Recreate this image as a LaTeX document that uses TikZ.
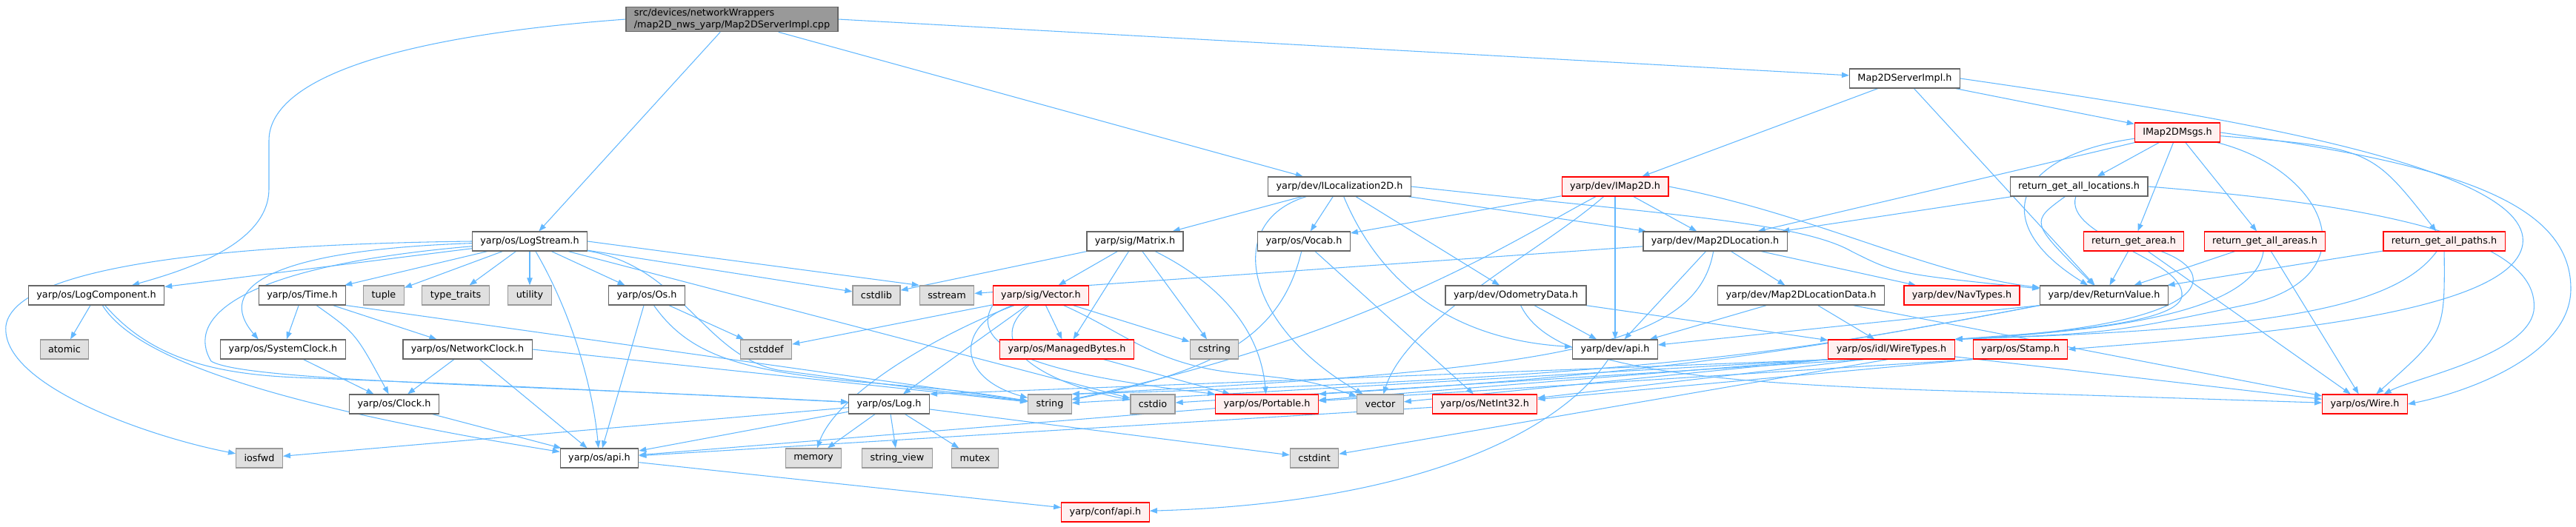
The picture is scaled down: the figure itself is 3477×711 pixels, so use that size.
\documentclass[tikz,border=0pt]{standalone}
\usepackage{fontspec}
\setmainfont{DejaVu Sans}
\usepackage{tikz}
\usetikzlibrary{arrows.meta}
\definecolor{edgeblue}{HTML}{63B8FF}
\definecolor{boxline}{HTML}{666666}
\definecolor{sysline}{HTML}{999999}
\definecolor{sysfill}{HTML}{E0E0E0}
\definecolor{truncline}{HTML}{FF0000}
\definecolor{truncfill}{HTML}{FFF0F0}
\definecolor{rootfill}{HTML}{999999}
\pgfdeclarelayer{edges}
\pgfsetlayers{edges,main}

\begin{document}
\begin{tikzpicture}[x=0.75pt, y=-0.75pt,
    box/.style={draw, line width=0.9pt, inner xsep=8.2pt, inner ysep=2pt,
      minimum height=19.5pt, font=\fontsize{9.6}{11.5}\selectfont},
    hdr/.style={box, draw=boxline, fill=white},
    sys/.style={box, draw=sysline, fill=sysfill},
    trunc/.style={box, draw=truncline, fill=truncfill},
    rootbox/.style={box, draw=boxline, fill=rootfill, align=left},
    dep/.style={->, >={Stealth[inset=0pt, length=7.5pt, width=5.5pt]},
      draw=edgeblue, line width=0.8pt}]
  \useasboundingbox (0,0) rectangle (3477,711);

  % rows of headers, top to bottom
  \node[rootbox] (root) at (988,26) {src/devices/networkWrappers\\/map2D\_nws\_yarp/Map2DServerImpl.cpp};
  \node[hdr] (srvimpl) at (2571,106) {Map2DServerImpl.h};
  \node[trunc] (msgs) at (2939,179) {IMap2DMsgs.h};
  \node[hdr] (iloc) at (1808,252) {yarp/dev/ILocalization2D.h};
  \node[trunc] (imap) at (2180,252) {yarp/dev/IMap2D.h};
  \node[hdr] (rgalloc) at (2806,252) {return\_get\_all\_locations.h};
  \node[hdr] (logstream) at (715,326) {yarp/os/LogStream.h};
  \node[hdr] (matrix) at (1532,326) {yarp/sig/Matrix.h};
  \node[hdr] (vocab) at (1760,326) {yarp/os/Vocab.h};
  \node[hdr] (maploc) at (2315,326) {yarp/dev/Map2DLocation.h};
  \node[trunc] (rgarea) at (2880,326) {return\_get\_area.h};
  \node[trunc] (rgareas) at (3057,326) {return\_get\_all\_areas.h};
  \node[trunc] (rgpaths) at (3299,326) {return\_get\_all\_paths.h};
  \node[hdr] (logcomp) at (130,399) {yarp/os/LogComponent.h};
  \node[hdr] (time) at (408,399) {yarp/os/Time.h};
  \node[sys] (tuple) at (518,399) {tuple};
  \node[sys] (typetraits) at (615,399) {type\_traits};
  \node[sys] (utility) at (715,399) {utility};
  \node[hdr] (os) at (873,399) {yarp/os/Os.h};
  \node[sys] (cstdlib) at (1183,399) {cstdlib};
  \node[sys] (sstream) at (1278,399) {sstream};
  \node[trunc] (sigvector) at (1405,399) {yarp/sig/Vector.h};
  \node[hdr] (odom) at (2046,399) {yarp/dev/OdometryData.h};
  \node[hdr] (locdata) at (2431,399) {yarp/dev/Map2DLocationData.h};
  \node[trunc] (navtypes) at (2648,399) {yarp/dev/NavTypes.h};
  \node[hdr] (retval) at (2840,399) {yarp/dev/ReturnValue.h};
  \node[sys] (atomic) at (87,472) {atomic};
  \node[hdr] (sysclock) at (382,472) {yarp/os/SystemClock.h};
  \node[hdr] (netclock) at (631,472) {yarp/os/NetworkClock.h};
  \node[sys] (cstddef) at (1034,472) {cstddef};
  \node[trunc] (managed) at (1440,472) {yarp/os/ManagedBytes.h};
  \node[sys] (cstring) at (1639,472) {cstring};
  \node[hdr] (devapi) at (2180,472) {yarp/dev/api.h};
  \node[trunc] (wiretypes) at (2553,472) {yarp/os/idl/WireTypes.h};
  \node[trunc] (stamp) at (2727,472) {yarp/os/Stamp.h};
  \node[hdr] (clock) at (532,546) {yarp/os/Clock.h};
  \node[hdr] (log) at (1200,546) {yarp/os/Log.h};
  \node[sys] (string) at (1417,546) {string};
  \node[sys] (cstdio) at (1556,546) {cstdio};
  \node[trunc] (portable) at (1710,546) {yarp/os/Portable.h};
  \node[sys] (vector) at (1863,546) {vector};
  \node[trunc] (netint) at (2004,546) {yarp/os/NetInt32.h};
  \node[trunc] (wire) at (3192,546) {yarp/os/Wire.h};
  \node[sys] (iosfwd) at (350,619) {iosfwd};
  \node[hdr] (osapi) at (809,619) {yarp/os/api.h};
  \node[sys] (memory) at (1098,619) {memory};
  \node[sys] (strview) at (1211,619) {string\_view};
  \node[sys] (mutex) at (1316,619) {mutex};
  \node[sys] (cstdint) at (1774,619) {cstdint};
  \node[trunc] (confapi) at (1492,692) {yarp/conf/api.h};

  \begin{pgfonlayer}{edges}
  % Map2DServerImpl.cpp
  \draw[dep] (root.west) .. controls (520,50) and (363,110) .. (363,190) -- (363,255) .. controls (363,330) and (250,365) .. (logcomp);
  \draw[dep] (root) -- (logstream);
  \draw[dep] (root) -- (iloc);
  \draw[dep] (root.east) -- (srvimpl);
  % Map2DServerImpl.h
  \draw[dep] (srvimpl) -- (imap);
  \draw[dep] (srvimpl) -- (retval);
  \draw[dep] (srvimpl) -- (msgs);
  \draw[dep] (srvimpl.east) .. controls (2950,150) and (3420,220) .. (3405,330) .. controls (3390,430) and (3000,455) .. (stamp.east);
  % IMap2DMsgs.h
  \draw[dep] (msgs) -- (maploc);
  \draw[dep] (msgs) -- (rgalloc);
  \draw[dep] (msgs) -- (rgarea);
  \draw[dep] (msgs) -- (rgareas);
  \draw[dep] (msgs) .. controls (3200,200) .. (rgpaths);
  \draw[dep] (msgs) .. controls (2720,210) and (2680,300) .. (retval);
  \draw[dep] (msgs) .. controls (3140,230) and (3200,370) .. (3040,410) .. controls (2850,450) .. (wiretypes.north east);
  \draw[dep] (msgs.east) .. controls (3300,220) and (3470,270) .. (3470,390) .. controls (3470,480) and (3330,530) .. (wire.east);
  % return_get_*.h
  \draw[dep] (rgalloc) -- (maploc);
  \draw[dep] (rgalloc) .. controls (2740,300) .. (retval);
  \draw[dep] (rgalloc) .. controls (2785,320) and (2950,350) .. (2945,400) .. controls (2940,440) and (2750,450) .. (wiretypes.north east);
  \draw[dep] (rgalloc.east) .. controls (3250,280) and (3430,330) .. (3420,420) .. controls (3410,480) and (3260,510) .. (wire);
  \draw[dep] (rgarea) -- (retval);
  \draw[dep] (rgarea) .. controls (3000,370) and (2990,440) .. (wiretypes.north east);
  \draw[dep] (rgarea) -- (wire);
  \draw[dep] (rgareas) -- (retval);
  \draw[dep] (rgareas) .. controls (3045,410) and (2900,445) .. (wiretypes.north east);
  \draw[dep] (rgareas) -- (wire);
  \draw[dep] (rgpaths) -- (retval);
  \draw[dep] (rgpaths) .. controls (3230,420) and (3050,445) .. (wiretypes.north east);
  \draw[dep] (rgpaths) .. controls (3300,450) .. (wire);
  % IMap2D.h
  \draw[dep] (imap) -- (vocab);
  \draw[dep] (imap) -- (maploc);
  \draw[dep] (imap) -- (devapi);
  \draw[dep] (imap.east) .. controls (2450,290) and (2600,370) .. (retval);
  \draw[dep] (imap) .. controls (2050,320) and (1860,450) .. (string);
  \draw[dep] (imap) .. controls (2080,340) and (1900,430) .. (vector);
  % ILocalization2D.h
  \draw[dep] (iloc) -- (matrix);
  \draw[dep] (iloc) -- (vocab);
  \draw[dep] (iloc) .. controls (1650,300) and (1680,440) .. (vector);
  \draw[dep] (iloc) .. controls (1870,400) and (1980,460) .. (devapi);
  \draw[dep] (iloc) -- (odom);
  \draw[dep] (iloc) -- (maploc);
  \draw[dep] (iloc.east) .. controls (2250,290) and (2430,300) .. (2500,340) .. controls (2560,370) .. (retval);
  % Matrix.h, Vocab.h
  \draw[dep] (matrix) -- (cstdlib);
  \draw[dep] (matrix) -- (sigvector);
  \draw[dep] (matrix) -- (managed);
  \draw[dep] (matrix) -- (cstring);
  \draw[dep] (matrix) .. controls (1640,380) and (1700,440) .. (portable);
  \draw[dep] (vocab) .. controls (1730,450) and (1650,500) .. (string);
  \draw[dep] (vocab) -- (netint);
  % Map2DLocation.h
  \draw[dep] (maploc) -- (sstream);
  \draw[dep] (maploc) -- (devapi);
  \draw[dep] (maploc) .. controls (2290,470) and (2100,500) .. (string.north east);
  \draw[dep] (maploc) -- (locdata);
  \draw[dep] (maploc) -- (navtypes);
  % OdometryData.h, Map2DLocationData.h
  \draw[dep] (odom) -- (devapi);
  \draw[dep] (odom) -- (wiretypes);
  \draw[dep] (odom) .. controls (2090,490) and (2250,515) .. (2600,527) -- (wire);
  \draw[dep] (locdata) -- (devapi);
  \draw[dep] (locdata) -- (wiretypes);
  \draw[dep] (locdata) -- (wire);
  % ReturnValue.h
  \draw[dep] (retval.south west) -- (devapi);
  \draw[dep] (retval.south west) .. controls (2450,470) and (2250,510) .. (string.north east);
  \draw[dep] (retval.south west) .. controls (2450,470) and (2250,505) .. (portable.north east);
  % WireTypes.h, Stamp.h
  \draw[dep] (wiretypes) -- (wire);
  \draw[dep] (wiretypes.south west) -- (string);
  \draw[dep] (wiretypes.200) -- (cstdio);
  \draw[dep] (wiretypes.south west) -- (vector);
  \draw[dep] (wiretypes.200) -- (netint);
  \draw[dep] (wiretypes.south west) -- (portable);
  \draw[dep] (wiretypes.250) -- (cstdint);
  \draw[dep] (wiretypes.190) -- (log.north east);
  \draw[dep] (stamp.south west) -- (portable);
  \draw[dep] (stamp.south west) -- (netint);
  % Vector.h, ManagedBytes.h
  \draw[dep] (sigvector) -- (cstddef);
  \draw[dep] (sigvector) -- (log);
  \draw[dep] (sigvector) .. controls (1290,440) and (1290,510) .. (string);
  \draw[dep] (sigvector) .. controls (1320,470) and (1420,520) .. (cstdio);
  \draw[dep] (sigvector) .. controls (1270,450) and (1130,530) .. (memory);
  \draw[dep] (sigvector) -- (managed);
  \draw[dep] (sigvector) -- (cstring);
  \draw[dep] (sigvector) .. controls (1520,450) and (1560,495) .. (1680,505) .. controls (1770,515) .. (vector);
  \draw[dep] (sigvector.south west) .. controls (1300,480) and (1450,510) .. (portable.north west);
  \draw[dep] (managed) -- (portable);
  % LogStream.h
  \draw[dep] (logstream) -- (logcomp);
  \draw[dep] (logstream.west) .. controls (300,330) and (20,360) .. (8,440) .. controls (0,520) and (200,590) .. (iosfwd);
  \draw[dep] (logstream) .. controls (360,338) and (290,390) .. ([xshift=-25]sysclock.north);
  \draw[dep] (logstream) .. controls (320,360) and (250,430) .. (285,488) .. controls (330,515) and (700,520) .. (log);
  \draw[dep] (logstream) -- (time);
  \draw[dep] (logstream) -- (tuple);
  \draw[dep] (logstream) -- (typetraits);
  \draw[dep] (logstream) -- (utility);
  \draw[dep] (logstream) -- (os);
  \draw[dep] (logstream) .. controls (770,420) and (800,520) .. (osapi);
  \draw[dep] (logstream) -- (cstdlib);
  \draw[dep] (logstream.east) -- (sstream.north west);
  \draw[dep] (logstream) .. controls (920,360) and (950,480) .. (1050,500) .. controls (1200,520) .. (string);
  \draw[dep] (logstream) -- (cstdio);
  % LogComponent.h, Time.h, clocks, Os.h
  \draw[dep] (logcomp) -- (atomic);
  \draw[dep] (logcomp) .. controls (180,480) and (350,545) .. (osapi);
  \draw[dep] (logcomp) .. controls (200,480) and (280,505) .. (400,510) .. controls (700,522) .. (log);
  \draw[dep] (time) -- (sysclock);
  \draw[dep] (time) .. controls (480,450) .. (clock);
  \draw[dep] (time) -- (netclock);
  \draw[dep] (time.south east) -- (string);
  \draw[dep] (sysclock) -- (clock);
  \draw[dep] (netclock) -- (clock);
  \draw[dep] (netclock) -- (osapi);
  \draw[dep] (netclock.east) -- (string);
  \draw[dep] (clock) -- (osapi);
  \draw[dep] (os) -- (osapi);
  \draw[dep] (os) -- (cstddef);
  \draw[dep] (os) .. controls (930,480) and (1000,500) .. (1150,515) .. controls (1300,528) .. (string);
  % Log.h
  \draw[dep] (log) -- (iosfwd);
  \draw[dep] (log) -- (osapi);
  \draw[dep] (log) -- (memory);
  \draw[dep] (log) -- (strview);
  \draw[dep] (log) -- (mutex);
  \draw[dep] (log) -- (cstdint);
  % bottom rows
  \draw[dep] (portable) -- (osapi);
  \draw[dep] (netint) -- (osapi);
  \draw[dep] (osapi) -- (confapi);
  \draw[dep] (devapi) .. controls (2100,590) and (1900,680) .. (confapi);
  \end{pgfonlayer}
\end{tikzpicture}
\end{document}
